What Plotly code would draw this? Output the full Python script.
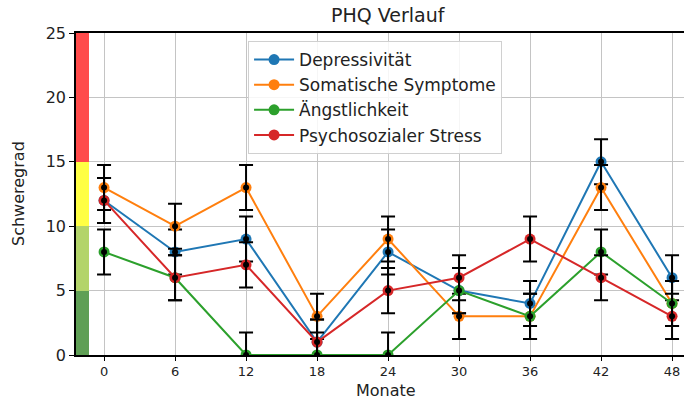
import plotly.graph_objects as go

months = [0, 6, 12, 18, 24, 30, 36, 42, 48]
depressivitaet = [12, 8, 9, 1, 8, 5, 4, 15, 6]
somatisch = [13, 10, 13, 3, 9, 3, 3, 13, 4]
angst = [8, 6, 0, 0, 0, 5, 3, 8, 4]
stress = [12, 6, 7, 1, 5, 6, 9, 6, 3]
error = 1.75

series_names = ["Depressivität", "Somatische Symptome", "Ängstlichkeit", "Psychosozialer Stress"]
series_values = [depressivitaet, somatisch, angst, stress]
series_colors = ["#1f77b4", "#ff7f0e", "#2ca02c", "#d62728"]

band_base = [0, 5, 10, 15]
band_height = [5, 5, 5, 10]
band_colors = ["#5f9f55", "#b3d46a", "#ffff44", "#ff4b4b"]
band_x = -1.82
band_width = 1.1

fig = go.Figure()

fig.add_trace(go.Bar(x=[band_x] * 4, y=band_height, base=band_base, width=band_width,
                     marker=dict(color=band_colors, line=dict(width=0)), showlegend=False,
                     hoverinfo="skip"))

for name, vals, col in zip(series_names, series_values, series_colors):
    fig.add_trace(go.Scatter(x=months, y=vals, name=name, mode="lines+markers",
                             line=dict(color=col, width=2),
                             marker=dict(color=col, size=11)))
    fig.add_trace(go.Scatter(x=months, y=vals, mode="markers", showlegend=False,
                             marker=dict(color="black", size=6),
                             error_y=dict(type="constant", value=error, color="black",
                                          thickness=2, width=7)))

fig.update_layout(
    width=684, height=401,
    margin=dict(l=76, r=0, t=33, b=46),
    plot_bgcolor="white", paper_bgcolor="white",
    font=dict(family="DejaVu Sans", size=13, color="#222"),
    barmode="overlay",
    bargap=0,
    legend=dict(x=0.283, y=0.975, xanchor="left", yanchor="top",
                bgcolor="rgba(255,255,255,0.85)", bordercolor="#d0d0d0", borderwidth=1,
                font=dict(size=17, color="#222"), tracegroupgap=0, itemwidth=40),
    showlegend=True,
)
fig.update_xaxes(range=[-2.37, 49.01], tickvals=months, ticktext=[str(m) for m in months],
                 automargin=False,
                 showgrid=True, gridcolor="#c4c4c4", gridwidth=1,
                 showline=True, linecolor="black", linewidth=1.5, mirror=True,
                 ticks="outside", ticklen=4, tickcolor="black", zeroline=False,
                 tickfont=dict(size=13))
fig.update_yaxes(range=[0, 25], tickvals=[0, 5, 10, 15, 20, 25],
                 automargin=False,
                 showgrid=True, gridcolor="#c4c4c4", gridwidth=1,
                 showline=True, linecolor="black", linewidth=1.5,
                 ticks="outside", ticklen=5, tickcolor="black", zeroline=False,
                 tickfont=dict(size=16))

fig.add_annotation(text="PHQ Verlauf", x=(388 - 76) / 608, y=1 + (33 - 15) / 322,
                   xref="paper", yref="paper", xanchor="center", yanchor="middle",
                   showarrow=False, font=dict(size=19, color="#222"))
fig.add_annotation(text="Monate", x=(386 - 76) / 608, y=-(390 - 355) / 322, xref="paper",
                   yref="paper", xanchor="center", yanchor="middle",
                   showarrow=False, font=dict(size=16, color="#222"))
fig.add_annotation(text="Schweregrad", x=-(76 - 18) / 608, y=(355 - 194) / 322, xref="paper",
                   yref="paper", xanchor="center", yanchor="middle",
                   showarrow=False, textangle=-90, font=dict(size=16, color="#222"))

fig.write_html("out.html", config={"displayModeBar": False},
               post_script="document.body.style.margin='0';document.body.style.overflow='hidden';")
